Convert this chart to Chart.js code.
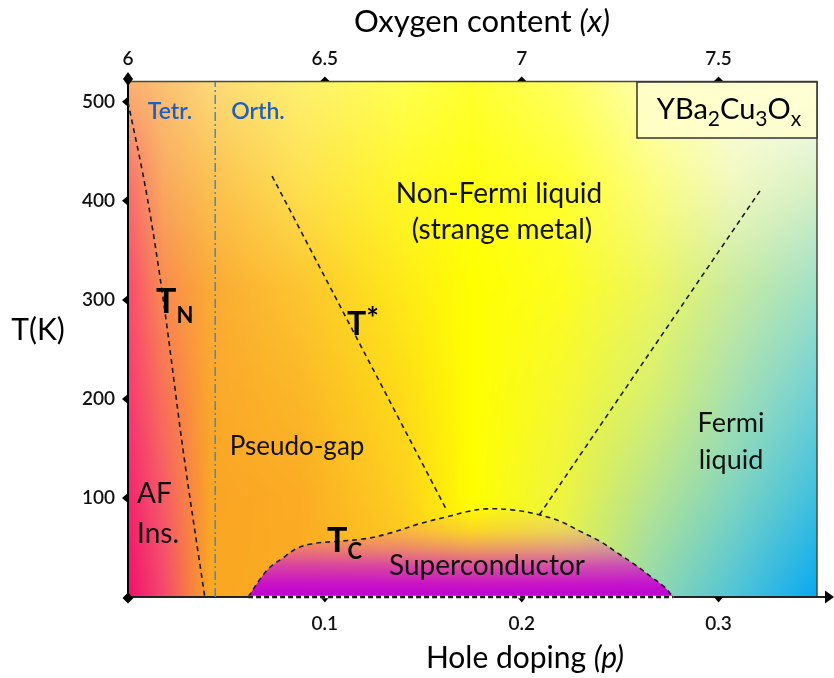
<!DOCTYPE html>
<html><head><meta charset="utf-8">
<script src="https://cdn.jsdelivr.net/npm/chart.js@4"></script>
<style>html,body{margin:0;padding:0;background:#fff;}canvas{display:block;}</style>
</head><body>
<canvas id="c" width="834" height="678"></canvas>
<script>
// ---------- data ----------
const xTickValues = [0.1, 0.2, 0.3];          // hole doping p
const oxygenTickValues = [6, 6.5, 7, 7.5];    // oxygen content x
const yTickValues = [100, 200, 300, 400, 500];// temperature K

const tnP = [0, 0.0099, 0.018, 0.028, 0.039];
const tnT = [500, 402, 299, 148, 0];

const tStarLeftP = [0.0732, 0.1618];
const tStarLeftT = [425, 88];
const tStarRightP = [0.209, 0.321];
const tStarRightT = [83, 410];

const tcP = [0.061, 0.0706, 0.079, 0.0858, 0.094, 0.105, 0.121, 0.134, 0.148, 0.162, 0.172, 0.182, 0.195, 0.209, 0.22, 0.229, 0.24, 0.249, 0.258, 0.266, 0.272, 0.277];
const tcT = [0, 27, 40, 49, 54, 56, 59, 65, 74, 81, 86, 89, 88, 83, 76, 67, 56, 44, 32, 20, 11, 0];

const tcBaseP = [0.061, 0.277];
const tcBaseT = [0, 0];

const structP = [0.0443, 0.0443];   // tetragonal / orthorhombic boundary
const structT = [0, 520];

const pRange = [0, 0.35];
const tRange = [0, 520];
const oxygenRange = [6, 7.75];

// ---------- helpers ----------
const FONT = 'Lato, "Open Sans", sans-serif';
const toPts = (xs, ys) => xs.map((x, i) => ({x: x, y: ys[i]}));
const dashedStyle = {borderColor: '#1a1a1a', borderWidth: 1.6, borderDash: [5, 4], pointRadius: 0, fill: false, showLine: true};

function hex(h){h=h.replace('#','');return [parseInt(h.substr(0,2),16),parseInt(h.substr(2,2),16),parseInt(h.substr(4,2),16)];}

// background colour field (style)
const fieldU = [0, 0.05, 0.12, 0.25, 0.4, 0.5, 0.63, 0.76, 0.88, 1];
const fieldV = [0, 0.2, 0.4, 0.6, 0.8, 1];
const fieldC = [
 ['#fbb070','#fbc072','#fdd878','#fef070','#ffff50','#ffff30','#ffff60','#ffffb0','#ffffe0','#fffff5'],
 ['#f7706a','#f9a860','#fbc050','#fee050','#fff828','#ffff10','#ffff30','#fcfd80','#f0f8c0','#d8f0c8'],
 ['#f84a70','#f98a50','#fbaa35','#fcc530','#feea18','#ffff00','#fdfd20','#ecf660','#c8eaa0','#a0e0c8'],
 ['#f73a72','#f87058','#fba82a','#fbb828','#fddc18','#ffff00','#f6f830','#d8f070','#a8e0b0','#70d0d8'],
 ['#f42470','#f65a68','#faa525','#fbac24','#fdd020','#ffff00','#eef440','#b8e490','#80d4c0','#40c0e0'],
 ['#f0106a','#f44570','#faa820','#fbaa22','#fcc020','#ffe800','#e0f050','#90d8b0','#50c4d8','#08a8f0']
].map(r => r.map(hex));

function locate(arr, t){
  let i = 0;
  while (i < arr.length - 2 && t > arr[i+1]) i++;
  let f = (t - arr[i]) / (arr[i+1] - arr[i]);
  return [i, Math.max(0, Math.min(1, f))];
}

const bgPlugin = {
  id: 'bg',
  beforeDraw(chart){
    const a = chart.chartArea, ctx = chart.ctx;
    const L = Math.round(a.left), T = Math.round(a.top);
    const W = Math.round(a.right) - L, H = Math.round(a.bottom) - T;
    const img = ctx.createImageData(W, H);
    const cols = [], rows = [];
    for (let x = 0; x < W; x++) cols.push(locate(fieldU, (x + 0.5) / W));
    for (let y = 0; y < H; y++) rows.push(locate(fieldV, (y + 0.5) / H));
    let k = 0;
    for (let y = 0; y < H; y++){
      const [j, fy] = rows[y];
      for (let x = 0; x < W; x++){
        const [i, fx] = cols[x];
        const c00 = fieldC[j][i], c01 = fieldC[j][i+1], c10 = fieldC[j+1][i], c11 = fieldC[j+1][i+1];
        for (let ch = 0; ch < 3; ch++){
          const top = c00[ch] + (c01[ch] - c00[ch]) * fx;
          const bot = c10[ch] + (c11[ch] - c10[ch]) * fx;
          img.data[k + ch] = top + (bot - top) * fy;
        }
        img.data[k + 3] = 255;
        k += 4;
      }
    }
    ctx.putImageData(img, L, T);
  },
  beforeDatasetsDraw(chart){
    const a = chart.chartArea, ctx = chart.ctx;
    const xs = chart.scales.x, ys = chart.scales.y, x2 = chart.scales.x2;
    ctx.save();
    ctx.strokeStyle = '#4a4a3a'; ctx.lineWidth = 1.5;
    ctx.beginPath(); ctx.moveTo(a.left, a.top - 0.5); ctx.lineTo(a.right, a.top - 0.5); ctx.lineTo(a.right, a.bottom); ctx.stroke();
    ctx.strokeStyle = '#000'; ctx.lineWidth = 2;
    ctx.beginPath(); ctx.moveTo(a.left, a.top - 1); ctx.lineTo(a.left, a.bottom); ctx.stroke();
    ctx.strokeStyle = '#222';
    ctx.beginPath(); ctx.moveTo(a.left, a.bottom); ctx.lineTo(826, a.bottom); ctx.stroke();
    ctx.fillStyle = '#000';
    ctx.beginPath(); ctx.moveTo(825, a.bottom - 6.5); ctx.lineTo(834, a.bottom); ctx.lineTo(825, a.bottom + 6.5); ctx.closePath(); ctx.fill();
    const diamond = (cx, cy, hw, hh) => { ctx.beginPath(); ctx.moveTo(cx, cy - hh); ctx.lineTo(cx + hw, cy); ctx.lineTo(cx, cy + hh); ctx.lineTo(cx - hw, cy); ctx.closePath(); ctx.fill(); };
    diamond(a.left, a.bottom + 1, 5.5, 5.5);
    diamond(a.left, a.top - 3, 5, 7);
    yTickValues.forEach(v => { const py = ys.getPixelForValue(v); ctx.beginPath(); ctx.moveTo(a.left, py - 5); ctx.lineTo(a.left - 6, py); ctx.lineTo(a.left, py + 5); ctx.closePath(); ctx.fill(); });
    xTickValues.forEach(v => { const px = xs.getPixelForValue(v); ctx.beginPath(); ctx.moveTo(px - 4.5, a.bottom); ctx.lineTo(px, a.bottom + 5.5); ctx.lineTo(px + 4.5, a.bottom); ctx.closePath(); ctx.fill(); });
    oxygenTickValues.slice(1).forEach(v => { const px = x2.getPixelForValue(v); ctx.beginPath(); ctx.moveTo(px - 4.5, a.top - 1); ctx.lineTo(px, a.top - 5.5); ctx.lineTo(px + 4.5, a.top - 1); ctx.closePath(); ctx.fill(); });
    ctx.restore();
  },
  afterDatasetsDraw(chart){
    const ctx = chart.ctx;
    ctx.save();
    ctx.textBaseline = 'alphabetic';
    const runs = (x, y, parts, align, color) => {
      let w = 0;
      parts.forEach(p => { ctx.font = p.f; w += ctx.measureText(p.t).width; });
      let cx = align === 'center' ? x - w / 2 : x;
      ctx.fillStyle = color || '#111';
      parts.forEach(p => { ctx.font = p.f; ctx.textAlign = 'left'; ctx.fillText(p.t, cx, y + (p.dy || 0)); cx += ctx.measureText(p.t).width; });
    };
    const R = s => s + 'px ' + FONT;
    const S = s => '600 ' + s + 'px ' + FONT;
    const B = s => 'bold ' + s + 'px ' + FONT;
    const I = s => 'italic ' + s + 'px ' + FONT;
    runs(482, 32, [{t: 'Oxygen content ', f: R(31)}, {t: '(x)', f: I(31)}], 'center', '#000');
    runs(525, 668, [{t: 'Hole doping ', f: R(30)}, {t: '(p)', f: I(30)}], 'center', '#000');
    runs(38, 340, [{t: 'T(K)', f: R(30)}], 'center', '#000');
    runs(170, 119, [{t: 'Tetr.', f: S(23)}], 'center', '#1f5fc4');
    runs(258, 119, [{t: 'Orth.', f: S(23)}], 'center', '#1f5fc4');
    runs(499, 203, [{t: 'Non-Fermi liquid', f: R(28)}], 'center');
    runs(502, 239, [{t: '(strange metal)', f: R(28)}], 'center');
    runs(297, 455, [{t: 'Pseudo-gap', f: R(26)}], 'center');
    runs(137, 503, [{t: 'AF', f: R(28)}], 'left');
    runs(137, 543, [{t: 'Ins.', f: R(28)}], 'left');
    runs(487, 575, [{t: 'Superconductor', f: R(28)}], 'center');
    runs(731, 432, [{t: 'Fermi', f: R(27)}], 'center');
    runs(731, 469, [{t: 'liquid', f: R(27)}], 'center');
    runs(156, 313, [{t: 'T', f: B(34)}, {t: 'N', f: B(22), dy: 10}], 'left', '#000');
    runs(347, 335, [{t: 'T', f: B(32)}, {t: '*', f: B(30), dy: -6}], 'left', '#000');
    runs(327, 552, [{t: 'T', f: B(34)}, {t: 'C', f: B(22), dy: 7}], 'left', '#000');
    ctx.fillStyle = 'rgba(255,255,205,0.8)';
    ctx.fillRect(637, 82, 180, 56);
    ctx.strokeStyle = '#333'; ctx.lineWidth = 1.5;
    ctx.strokeRect(637, 82, 180, 56);
    runs(729, 119, [
      {t: 'YBa', f: R(29)}, {t: '2', f: R(21), dy: 7}, {t: 'Cu', f: R(29)}, {t: '3', f: R(21), dy: 7}, {t: 'O', f: R(29)}, {t: 'x', f: R(21), dy: 7}
    ], 'center', '#000');
    ctx.restore();
  }
};

const tickFont = {family: FONT, size: 19, weight: '600'};

new Chart(document.getElementById('c'), {
  type: 'scatter',
  data: {
    datasets: [
      Object.assign({data: toPts(tcP, tcT), tension: 0.35, order: 5}, dashedStyle, {
        fill: 'origin',
        backgroundColor: (c) => {
          const ch = c.chart; const a = ch.chartArea; if (!a) return 'rgba(200,0,200,0.6)';
          const y0 = ch.scales.y.getPixelForValue(0), y1 = ch.scales.y.getPixelForValue(90);
          const g = ch.ctx.createLinearGradient(0, y0, 0, y1);
          g.addColorStop(0, 'rgba(190,0,212,1)');
          g.addColorStop(0.15, 'rgba(198,10,206,0.95)');
          g.addColorStop(0.35, 'rgba(208,40,192,0.8)');
          g.addColorStop(0.55, 'rgba(222,80,172,0.52)');
          g.addColorStop(0.75, 'rgba(238,120,150,0.25)');
          g.addColorStop(1, 'rgba(245,140,140,0.03)');
          return g;
        }
      }),
      Object.assign({data: toPts(tnP, tnT), cubicInterpolationMode: 'monotone'}, dashedStyle),
      Object.assign({data: toPts(tStarLeftP, tStarLeftT)}, dashedStyle),
      Object.assign({data: toPts(tStarRightP, tStarRightT)}, dashedStyle),
      {data: toPts(structP, structT), showLine: true, pointRadius: 0, borderColor: '#4f86bf', borderWidth: 1.5, borderDash: [9, 3, 2, 3], fill: false},
      Object.assign({data: toPts(tcBaseP, tcBaseT), clip: false}, dashedStyle, {borderWidth: 2.5, borderDash: [5, 3]}),
      {data: toPts(tcBaseP, tcBaseT), showLine: true, pointRadius: 0, borderColor: '#ffffff', borderWidth: 2.5, fill: false, clip: false}
    ]
  },
  options: {
    responsive: false, animation: false, devicePixelRatio: 1,
    layout: {padding: {left: 0, right: 17, top: 0, bottom: 0}},
    plugins: {legend: {display: false}, tooltip: {enabled: false}},
    scales: {
      x: {
        type: 'linear', position: 'bottom', min: pRange[0], max: pRange[1],
        afterBuildTicks: s => { s.ticks = xTickValues.map(v => ({value: v})); },
        afterFit: s => { s.height = 81; },
        grid: {display: false, drawTicks: false}, border: {display: false},
        ticks: {padding: 15, font: tickFont, color: '#111', maxRotation: 0, callback: v => v.toFixed(1)}
      },
      x2: {
        type: 'linear', position: 'top', min: oxygenRange[0], max: oxygenRange[1],
        afterBuildTicks: s => { s.ticks = oxygenTickValues.map(v => ({value: v})); },
        afterFit: s => { s.height = 82; },
        grid: {display: false, drawTicks: false}, border: {display: false},
        ticks: {padding: 12, font: tickFont, color: '#111', maxRotation: 0, callback: v => String(v)}
      },
      y: {
        type: 'linear', position: 'left', min: tRange[0], max: tRange[1],
        afterBuildTicks: s => { s.ticks = yTickValues.map(v => ({value: v})); },
        afterFit: s => { s.width = 128; },
        grid: {display: false, drawTicks: false}, border: {display: false},
        ticks: {padding: 13, font: tickFont, color: '#111', callback: v => String(v)}
      }
    }
  },
  plugins: [bgPlugin]
});
</script>
</body></html>
